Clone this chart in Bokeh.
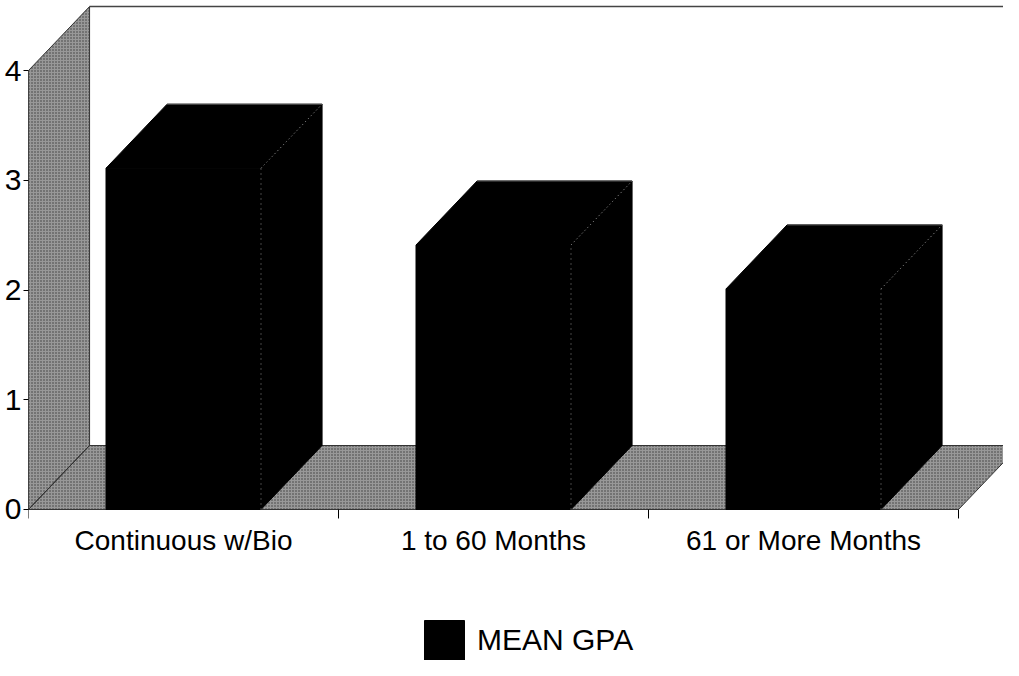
import math
from bokeh.plotting import figure
from bokeh.models import FixedTicker, Legend, LegendItem
from bokeh.embed import file_html
from bokeh.resources import INLINE
from bokeh.core.properties import value

# ---- data ----
categories = ["Continuous w/Bio", "1 to 60 Months", "61 or More Months"]
mean_gpa = [3.11, 2.41, 2.01]
y_ticks = [0, 1, 2, 3, 4]
series_name = "MEAN GPA"

# ---- style ----
DX = 0.197     # 3-D depth offset (category units)
DY = 0.583     # 3-D depth offset (value units)
BAR_W = 0.5
Y_MAX = 4
FONT = "Liberation Sans"
WALL = "#989898"
EDGE = "#333333"
HATCH = dict(hatch_pattern="dot", hatch_color="#2a2a2a", hatch_scale=3, hatch_weight=1, hatch_alpha=0.85)

n = len(categories)
centers = [i + 0.5 for i in range(n)]
bounds = list(range(n + 1))

p = figure(width=1003, height=660, x_range=(0, 975 / 310), y_range=(-1.376, 4.638),
           output_backend="svg", toolbar_location=None, title=None,
           min_border_left=28, min_border_right=0, min_border_top=0, min_border_bottom=0)
p.outline_line_color = None
p.grid.visible = False
p.xaxis.visible = False
p.background_fill_color = "white"
p.border_fill_color = "white"

# back wall top edge
p.line([DX, n + 0.4], [Y_MAX + DY, Y_MAX + DY], line_color="#444444", line_width=1.5)

# left wall
p.patch([0, 0, DX, DX], [0, Y_MAX, Y_MAX + DY, DY], fill_color=WALL, line_color=EDGE, line_width=1, **HATCH)
# floor
p.patch([0, n, n + DX, DX], [0, 0, DY, DY], fill_color=WALL, line_color=EDGE, line_width=1, **HATCH)
# floor / wall joint
p.line([0, DX], [0, DY], line_color=EDGE, line_width=1)

# bars
x0s = [c - BAR_W / 2 for c in centers]
x1s = [c + BAR_W / 2 for c in centers]
front = p.vbar(x=centers, top=mean_gpa, bottom=0, width=BAR_W, fill_color="black", line_color="black")
top_xs = [[a, b, b + DX, a + DX] for a, b in zip(x0s, x1s)]
top_ys = [[v, v, v + DY, v + DY] for v in mean_gpa]
p.patches(top_xs, top_ys, fill_color="black", line_color="black")
side_xs = [[b, b, b + DX, b + DX] for b in x1s]
side_ys = [[0, v, v + DY, DY] for v in mean_gpa]
p.patches(side_xs, side_ys, fill_color="black", line_color="black")
# faint speckled edges
p.multi_line([[b, b] for b in x1s], [[0, v] for v in mean_gpa],
             line_color="#8a8a8a", line_width=1, line_dash="1 4")
p.multi_line([[b, b + DX] for b in x1s], [[v, v + DY] for v in mean_gpa],
             line_color="#9a9a9a", line_width=1, line_dash="1 3")
p.multi_line([[a + DX, b + DX] for a, b in zip(x0s, x1s)], [[v + DY, v + DY] for v in mean_gpa],
             line_color="#555555", line_width=1)

# front edge of left wall (value axis line)
p.line([0, 0], [0, Y_MAX], line_color="black", line_width=1)

# y axis
p.yaxis.ticker = FixedTicker(ticks=y_ticks)
p.yaxis.axis_line_color = None
p.yaxis.major_tick_in = 0
p.yaxis.major_tick_out = 5
p.yaxis.major_tick_line_color = "black"
p.yaxis.minor_tick_line_color = None
p.yaxis.major_label_text_font = FONT
p.yaxis.major_label_text_font_size = "30px"
p.yaxis.major_label_text_color = "black"
p.yaxis.major_label_standoff = 2

# category axis: ticks at boundaries, labels at centres
p.ray(x=bounds, y=[0] * len(bounds), length=9, length_units="screen", angle=-math.pi / 2,
      line_color="black", line_width=1)
p.text(x=centers, y=[0] * n, text=categories, text_align="center", text_baseline="alphabetic",
       y_offset=31, text_font=value(FONT), text_font_size="28px", text_color="black")

legend = Legend(items=[LegendItem(label=series_name, renderers=[front])],
                location=(391, -5), orientation="horizontal",
                glyph_width=50, glyph_height=50, label_standoff=8,
                label_text_font=FONT, label_text_font_size="30px", label_text_color="black",
                border_line_color=None, background_fill_alpha=0,
                padding=0, margin=0, spacing=0)
p.add_layout(legend, "center")

open("out.html", "w").write(file_html(p, INLINE))
